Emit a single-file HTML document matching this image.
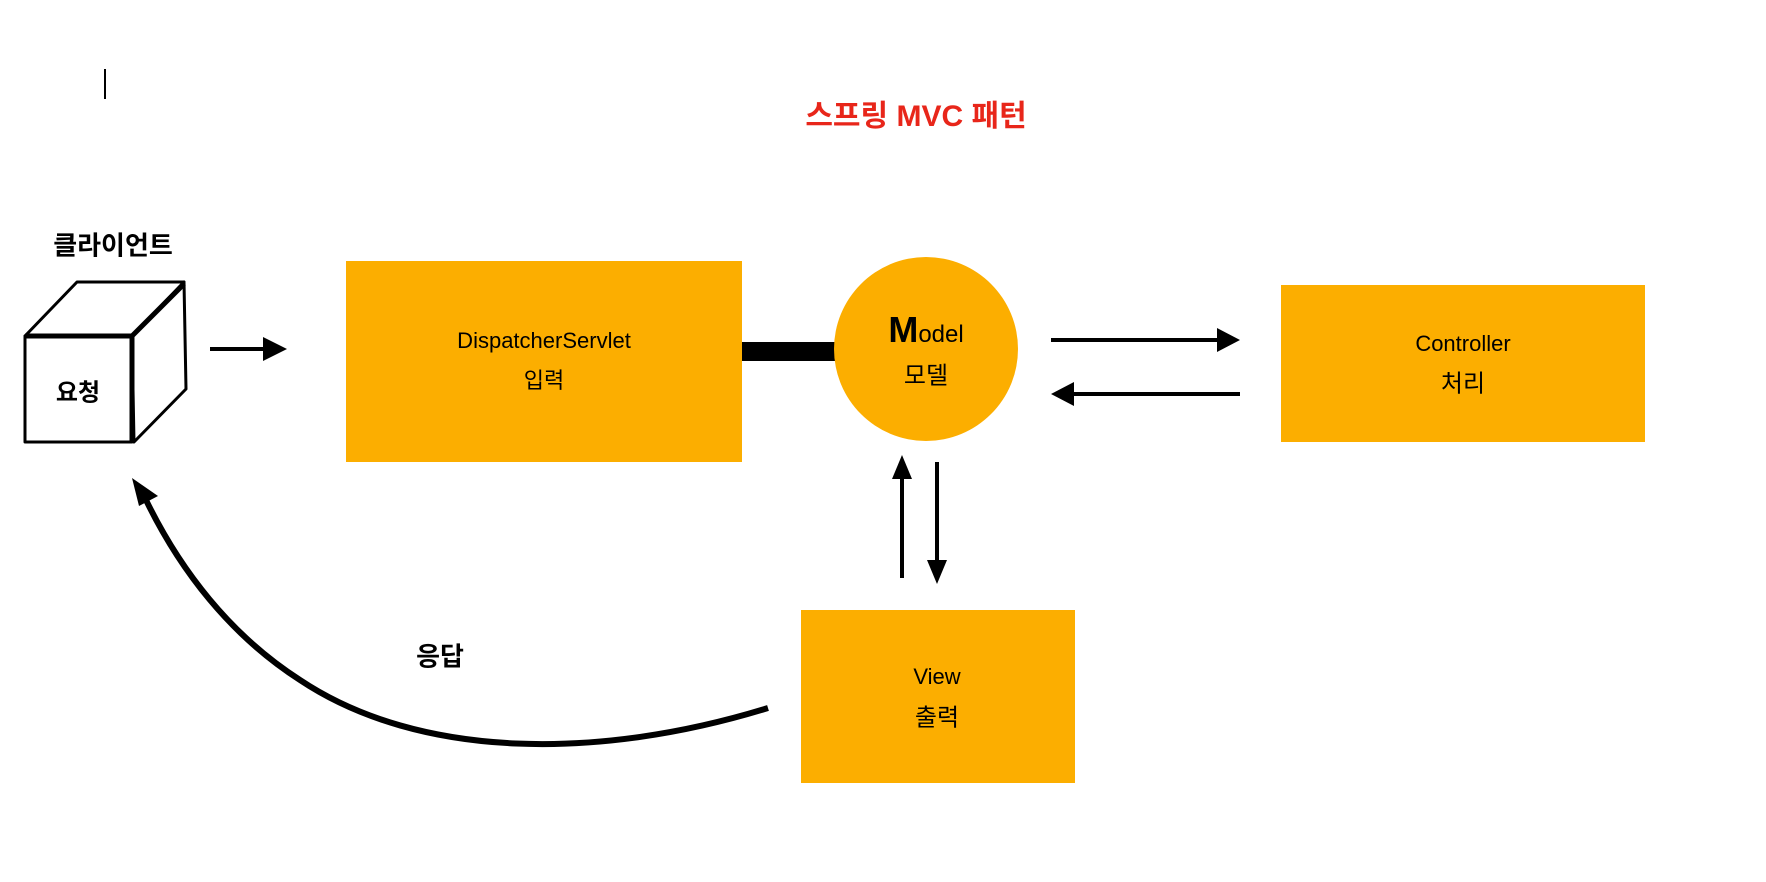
<!DOCTYPE html>
<html><head><meta charset="utf-8"><style>
html,body{margin:0;padding:0;background:#fff;}
body{width:1766px;height:882px;position:relative;overflow:hidden;font-family:"Liberation Sans","Noto Sans CJK KR",sans-serif;}
.t{position:absolute;transform:translate(-50%,-50%);white-space:nowrap;color:#000;}
.box{position:absolute;background:#FCAE00;}
</style></head><body>
<div class="box" style="left:346px;top:261px;width:396px;height:201px"></div>
<div class="box" style="left:1281px;top:285px;width:364px;height:157px"></div>
<div class="box" style="left:801px;top:610px;width:274px;height:173px"></div>
<svg width="1766" height="882" style="position:absolute;left:0;top:0">
<line x1="105" y1="69" x2="105" y2="99" stroke="#000" stroke-width="2"/>
<!-- cube -->
<g fill="#fff" stroke="#000" stroke-width="3" stroke-linejoin="round">
<polygon points="25,336 77,282 184,282 132,336"/>
<polygon points="132,336 184,282 186,389 134,442"/>
<rect x="25" y="336" width="107" height="106"/>
</g>
<line x1="25" y1="336" x2="132" y2="336" stroke="#000" stroke-width="5"/>
<line x1="132" y1="336" x2="132" y2="442" stroke="#000" stroke-width="5"/>
<line x1="132" y1="336" x2="184" y2="284" stroke="#000" stroke-width="5"/>
<!-- arrow 1 -->
<line x1="210" y1="349" x2="266" y2="349" stroke="#000" stroke-width="4"/>
<polygon points="263,337 287,349 263,361" fill="#000"/>
<!-- bar -->
<rect x="742" y="342" width="96" height="19" fill="#000"/>
<circle cx="926" cy="349" r="92" fill="#FCAE00"/>
<!-- right arrows -->
<line x1="1051" y1="340" x2="1220" y2="340" stroke="#000" stroke-width="4"/>
<polygon points="1217,328 1240,340 1217,352" fill="#000"/>
<line x1="1071" y1="394" x2="1240" y2="394" stroke="#000" stroke-width="4"/>
<polygon points="1074,382 1051,394 1074,406" fill="#000"/>
<!-- vertical arrows -->
<line x1="902" y1="477" x2="902" y2="578" stroke="#000" stroke-width="4"/>
<polygon points="892,479 902,455 912,479" fill="#000"/>
<line x1="937" y1="462" x2="937" y2="562" stroke="#000" stroke-width="4"/>
<polygon points="927,560 937,584 947,560" fill="#000"/>
<!-- curve -->
<path d="M768,708 C600,760 420,760 300,680 C230,635 180,570 146,500" fill="none" stroke="#000" stroke-width="6"/>
<polygon points="132,478 158,496 139,506" fill="#000"/>
</svg>
<div class="t" style="left:916px;top:113px;font-size:30px;font-weight:bold;color:#E8261A">스프링 MVC 패턴</div>
<div class="t" style="left:113px;top:244px;font-size:26px;font-weight:bold">클라이언트</div>
<div class="t" style="left:78px;top:390px;font-size:24px;font-weight:bold">요청</div>
<div class="t" style="left:544px;top:341px;font-size:22px">DispatcherServlet</div>
<div class="t" style="left:544px;top:379px;font-size:22px">입력</div>
<div class="t" style="left:926px;top:330px;font-size:24px"><span style="font-size:36px;font-weight:bold">M</span>odel</div>
<div class="t" style="left:926px;top:373px;font-size:24px">모델</div>
<div class="t" style="left:1463px;top:344px;font-size:22px">Controller</div>
<div class="t" style="left:1463px;top:381px;font-size:24px">처리</div>
<div class="t" style="left:937px;top:677px;font-size:22px">View</div>
<div class="t" style="left:937px;top:715px;font-size:24px">출력</div>
<div class="t" style="left:440px;top:655px;font-size:26px;font-weight:bold">응답</div>
</body></html>
